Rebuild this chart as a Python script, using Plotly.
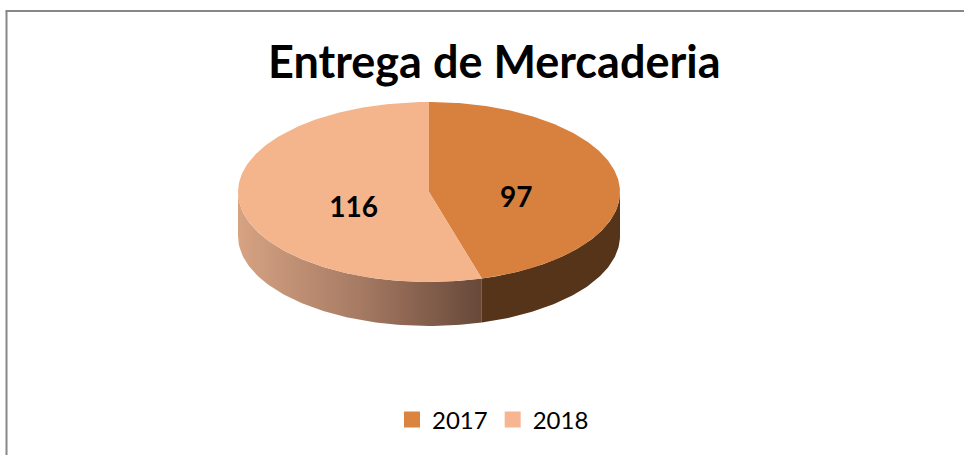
import numpy as np
import plotly.graph_objects as go

# ---- data ----
categories = ["2017", "2018"]
values = [97, 116]
top_colors = ["#D8803D", "#F4B48C"]
legend_colors = ["#DA8440", "#F7B691"]
title_text = "Entrega de Mercaderia"

# ---- geometry (pixel space) ----
W, H = 964, 455
cx, cy = 429, 192
rx, ry = 191, 90
depth = 44

def pt(theta_deg, dy=0.0):
    t = np.radians(theta_deg)
    return cx + rx * np.sin(t), cy - ry * np.cos(t) + dy

total = sum(values)
angles = [0.0]
for v in values:
    angles.append(angles[-1] + 360.0 * v / total)

fig = go.Figure()

side_styles = [
    dict(fillcolor="#563419"),
    dict(fillgradient=dict(type="horizontal",
                           colorscale=[[0, "#D6A383"], [0.5, "#A67A63"], [1, "#674839"]])),
]

# sides (only front half, angles 90..270 clockwise from top)
for i in range(len(values)):
    a0, a1 = angles[i], angles[i + 1]
    s0, s1 = max(a0, 90), min(a1, 270)
    if s1 <= s0:
        continue
    th = np.linspace(s0, s1, 80)
    top = [pt(t) for t in th]
    bot = [pt(t, depth) for t in th[::-1]]
    xs = [p[0] for p in top + bot] + [top[0][0]]
    ys = [p[1] for p in top + bot] + [top[0][1]]
    fig.add_trace(go.Scatter(x=xs, y=ys, fill="toself", mode="lines",
                             line=dict(width=0), showlegend=False,
                             hoverinfo="skip", **side_styles[i]))

# top faces
for i in range(len(values)):
    a0, a1 = angles[i], angles[i + 1]
    th = np.linspace(a0, a1, 200)
    pts = [(cx, cy)] + [pt(t) for t in th] + [(cx, cy)]
    fig.add_trace(go.Scatter(x=[p[0] for p in pts], y=[p[1] for p in pts],
                             fill="toself", mode="lines", line=dict(width=0),
                             fillcolor=top_colors[i], showlegend=False,
                             hoverinfo="skip"))

# labels
for i in range(len(values)):
    mid = (angles[i] + angles[i + 1]) / 2
    lx = cx + 6 + 0.43 * rx * np.sin(np.radians(mid))
    ly = cy - 0.43 * ry * np.cos(np.radians(mid)) + 13
    fig.add_trace(go.Scatter(x=[lx], y=[ly], mode="text", text=[str(values[i])],
                             textfont=dict(family="Lato", size=28, color="black", weight="bold"),
                             showlegend=False, hoverinfo="skip"))

# legend entries
for i, c in enumerate(categories):
    fig.add_trace(go.Scatter(x=[None], y=[None], mode="markers", name=c,
                             marker=dict(symbol="square", size=16, color=legend_colors[i])))

fig.add_annotation(x=494, y=61, xref="x", yref="y", text="<b>" + title_text + "</b>",
                   showarrow=False, font=dict(family="Lato", size=45, color="black"))

fig.add_shape(type="line", xref="paper", yref="paper", x0=6.5 / W, x1=6.5 / W,
              y0=1 - 11 / H, y1=0, line=dict(color="#878787", width=2))
fig.add_shape(type="line", xref="paper", yref="paper", x0=5.5 / W, x1=1,
              y0=1 - 11 / H, y1=1 - 11 / H, line=dict(color="#878787", width=2))

fig.update_layout(
    width=W, height=H, margin=dict(l=0, r=0, t=0, b=0),
    paper_bgcolor="white", plot_bgcolor="white",
    xaxis=dict(range=[0, W], visible=False, fixedrange=True),
    yaxis=dict(range=[H, 0], visible=False, fixedrange=True),
    showlegend=True,
    legend=dict(orientation="h", x=493 / W, xanchor="center", y=1 - 420 / H, yanchor="middle",
                font=dict(family="Lato", size=24, color="black"), itemsizing="trace",
                bgcolor="rgba(0,0,0,0)"),
)

fig.write_html("out.html", config={"displayModeBar": False},
               post_script="document.body.style.margin='0';document.body.style.overflow='hidden';")
